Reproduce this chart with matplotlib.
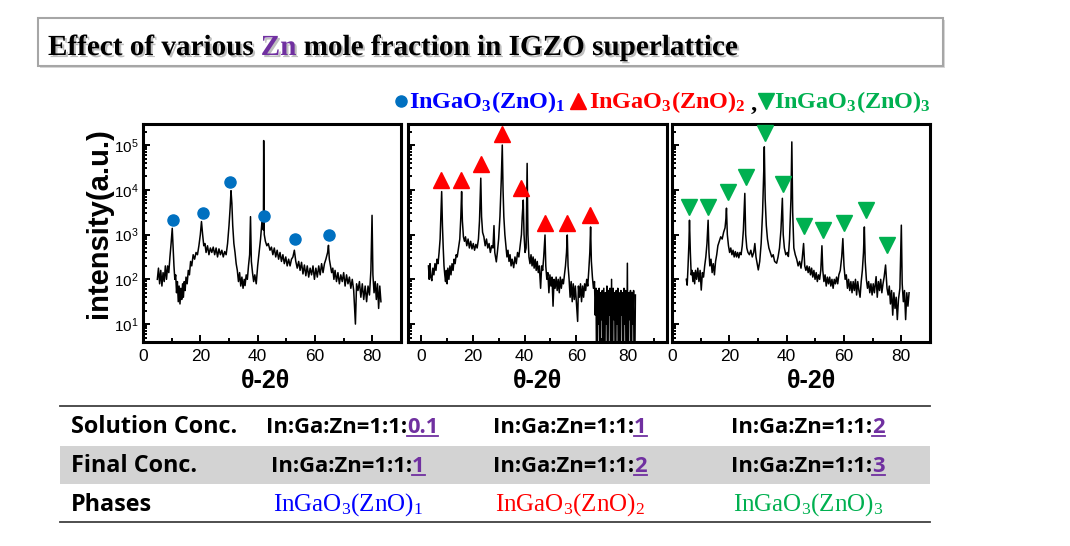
#!/usr/bin/env python3
"""XRD theta-2theta scans of IGZO superlattice films for three Zn fractions."""

import matplotlib

matplotlib.use("Agg")
import matplotlib.patheffects as pe
import matplotlib.pyplot as plt
import numpy as np
from matplotlib.lines import Line2D
from matplotlib.patches import Rectangle
from matplotlib.ticker import LogLocator, MultipleLocator, NullFormatter

# (2theta, log10 intensity)
SCAN_1 = [
    (5.0, 2.0), (5.4, 2.25), (5.8, 1.9), (6.2, 2.2), (6.6, 1.85), (7.0, 2.15),
    (7.4, 1.95), (7.8, 2.3), (8.2, 2.0), (8.6, 2.3), (9.0, 2.15), (9.4, 2.5),
    (9.8, 2.8), (10.2, 3.14), (10.5, 2.7), (10.8, 2.3), (11.1, 2.0), (11.4, 2.1),
    (11.7, 1.7), (12.0, 1.95), (12.3, 1.5), (12.6, 1.85), (12.9, 1.45), (13.2, 1.8),
    (13.5, 1.55), (13.8, 1.9), (14.1, 1.6), (14.4, 1.95), (14.7, 1.75), (15.0, 2.05),
    (15.4, 1.9), (15.8, 2.2), (16.2, 2.1), (16.6, 2.4), (17.0, 2.3), (17.5, 2.55),
    (18.0, 2.45), (18.5, 2.6), (19.0, 2.55), (19.5, 2.75), (20.0, 3.0), (20.4, 3.29),
    (20.8, 3.0), (21.2, 2.75), (21.6, 2.8), (22.0, 2.6), (22.5, 2.75), (23.0, 2.55),
    (23.5, 2.7), (24.0, 2.6), (24.5, 2.72), (25.0, 2.55), (25.5, 2.7), (26.0, 2.5),
    (26.5, 2.68), (27.0, 2.55), (27.5, 2.65), (28.0, 2.5), (28.5, 2.62), (29.0, 2.55),
    (29.5, 2.8), (30.0, 3.2), (30.4, 3.6), (30.7, 3.98), (31.0, 3.7), (31.3, 3.2),
    (31.7, 2.8), (32.1, 2.6), (32.5, 2.35), (32.9, 2.2), (33.3, 1.95), (33.7, 2.15),
    (34.1, 1.85), (34.5, 2.05), (34.9, 1.8), (35.3, 2.0), (35.6, 1.86), (36.0, 2.1),
    (36.4, 2.0), (36.8, 2.3), (37.2, 2.55), (37.5, 3.4), (37.8, 2.4), (38.2, 2.15),
    (38.6, 1.95), (39.0, 2.1), (39.5, 1.9), (40.0, 2.3), (40.5, 2.6), (41.0, 2.9),
    (41.5, 3.29), (42.0, 3.1), (42.1, 5.1), (42.3, 3.0), (42.7, 2.85), (43.2, 2.75),
    (43.7, 2.8), (44.3, 2.65), (44.8, 2.72), (45.3, 2.55), (45.8, 2.7), (46.3, 2.5),
    (46.8, 2.65), (47.3, 2.45), (47.8, 2.6), (48.3, 2.4), (48.8, 2.55), (49.3, 2.35),
    (49.8, 2.5), (50.3, 2.3), (50.8, 2.45), (51.3, 2.3), (51.8, 2.45), (52.3, 2.5),
    (52.8, 2.65), (53.3, 2.4), (53.8, 2.25), (54.3, 2.4), (54.8, 2.2), (55.3, 2.38),
    (55.8, 2.12), (56.3, 2.32), (56.8, 2.08), (57.3, 2.3), (57.8, 2.05), (58.3, 2.25),
    (58.8, 2.1), (59.3, 2.3), (59.8, 2.0), (60.3, 2.25), (60.8, 2.05), (61.3, 2.3),
    (61.8, 2.1), (62.3, 2.35), (62.8, 2.15), (63.3, 2.35), (63.8, 2.45), (64.4, 2.6),
    (64.7, 2.76), (65.0, 2.45), (65.4, 2.3), (65.8, 2.15), (66.2, 2.25), (66.6, 2.0),
    (67.0, 2.2), (67.5, 1.95), (68.0, 2.15), (68.5, 1.9), (69.0, 2.1), (69.5, 1.95),
    (70.0, 2.15), (70.5, 1.85), (71.0, 2.1), (71.5, 1.9), (72.0, 2.05), (72.5, 1.8),
    (73.0, 2.0), (73.5, 1.75), (74.1, 1.0), (74.5, 1.9), (75.0, 1.75), (75.5, 1.95),
    (76.0, 1.6), (76.5, 1.9), (77.0, 1.55), (77.5, 1.85), (78.0, 1.5), (78.5, 1.85),
    (79.0, 1.65), (79.5, 2.2), (79.9, 3.43), (80.2, 2.1), (80.6, 1.7), (81.0, 1.95),
    (81.4, 1.55), (81.8, 1.9), (82.2, 1.35), (82.6, 1.85), (83.0, 1.5),
]

SCAN_2 = [
    (2.9, 2.3), (3.2, 2.0), (3.5, 2.35), (3.8, 2.05), (4.2, 1.97), (4.6, 2.25),
    (5.0, 2.1), (5.4, 2.35), (5.8, 2.2), (6.2, 2.45), (6.6, 2.35), (7.0, 2.6),
    (7.4, 2.9), (7.7, 3.4), (8.0, 3.96), (8.3, 3.2), (8.6, 2.7), (8.9, 2.3),
    (9.2, 2.1), (9.5, 1.95), (9.8, 2.2), (10.1, 1.9), (10.4, 2.25), (10.8, 2.0),
    (11.2, 2.3), (11.6, 2.1), (12.0, 2.35), (12.4, 2.2), (12.8, 2.45), (13.2, 2.35),
    (13.6, 2.55), (14.0, 2.5), (14.5, 2.7), (15.0, 2.9), (15.4, 3.4), (15.7, 3.96),
    (16.0, 3.3), (16.4, 2.95), (16.8, 2.85), (17.2, 2.95), (17.7, 2.75), (18.2, 2.9),
    (18.7, 2.7), (19.2, 2.85), (19.7, 2.68), (20.2, 2.8), (20.7, 2.65), (21.2, 2.78),
    (21.7, 2.7), (22.2, 2.9), (22.6, 3.3), (23.1, 4.26), (23.4, 3.4), (23.8, 3.05),
    (24.3, 2.95), (24.8, 2.75), (25.3, 2.9), (25.8, 2.7), (26.3, 2.8), (26.8, 2.6),
    (27.3, 2.75), (27.8, 2.7), (28.2, 3.2), (28.5, 2.6), (28.8, 2.5), (29.1, 2.39),
    (29.5, 2.6), (30.0, 2.9), (30.5, 3.4), (31.0, 4.2), (31.4, 5.0), (31.7, 4.0),
    (32.0, 3.4), (32.4, 3.0), (32.8, 2.75), (33.2, 2.5), (33.6, 2.65), (34.0, 2.4),
    (34.4, 2.55), (34.8, 2.3), (35.2, 2.45), (35.8, 2.26), (36.3, 2.5), (36.8, 2.35),
    (37.3, 2.6), (37.8, 2.5), (38.3, 2.75), (38.8, 3.0), (39.1, 3.4), (39.5, 3.77),
    (39.8, 3.0), (40.2, 2.6), (40.6, 2.7), (41.0, 4.59), (41.3, 3.0), (41.7, 2.5),
    (42.1, 2.35), (42.5, 2.55), (42.9, 2.3), (43.3, 2.5), (43.7, 2.25), (44.1, 2.45),
    (44.5, 2.2), (44.9, 2.4), (45.3, 2.15), (45.7, 2.3), (46.2, 1.8), (46.6, 2.3),
    (47.0, 2.2), (47.4, 2.5), (47.9, 2.99), (48.2, 2.3), (48.6, 2.0), (49.0, 2.15),
    (49.4, 1.7), (49.8, 2.1), (50.2, 1.85), (50.6, 2.05), (51.0, 1.4), (51.4, 2.0),
    (51.8, 1.8), (52.2, 2.05), (52.6, 1.75), (53.0, 2.0), (53.4, 1.7), (53.8, 2.05),
    (54.2, 1.8), (54.6, 2.0), (55.0, 1.9), (55.4, 2.1), (55.8, 2.3), (56.2, 2.6),
    (56.5, 2.99), (56.8, 2.3), (57.2, 2.0), (57.6, 1.6), (58.0, 1.95), (58.4, 1.5),
    (58.8, 1.9), (59.2, 1.55), (59.6, 1.85), (60.0, 1.5), (60.5, 1.06), (60.8, 1.85),
    (61.2, 1.6), (61.6, 1.9), (62.0, 1.5), (62.4, 1.85), (62.8, 1.6), (63.2, 1.9),
    (63.6, 1.75), (64.0, 2.0), (64.4, 1.85), (64.8, 2.2), (65.2, 2.6), (65.5, 3.17),
    (65.8, 2.4), (66.2, 2.05), (66.6, 1.8), (67.0, 1.95), (67.3, 1.2), (67.6, 1.8),
    (67.9, -1.0), (68.2, 1.75), (68.5, 1.0), (68.8, 1.8), (69.1, -1.0), (69.4, 1.7),
    (69.7, 1.1), (70.0, 1.75), (70.3, -1.0), (70.6, 1.8), (70.9, -1.0), (71.2, 1.7),
    (71.5, 1.0), (71.8, 1.85), (72.1, -1.0), (72.4, 1.75), (72.7, 1.2), (73.0, 1.8),
    (73.3, -1.0), (73.6, 2.0), (73.9, -1.0), (74.2, 1.8), (74.5, 1.1), (74.8, 1.7),
    (75.1, -1.0), (75.4, 1.75), (75.7, 1.0), (76.0, 1.8), (76.3, -1.0), (76.6, 1.7),
    (76.9, -1.0), (77.2, 1.75), (77.5, 1.2), (77.8, 1.7), (78.1, -1.0), (78.4, 1.8),
    (78.7, 1.0), (79.0, 1.75), (79.3, -1.0), (79.7, 2.36), (80.0, -1.0), (80.3, 1.7),
    (80.6, 1.1), (80.9, 1.75), (81.2, -1.0), (81.5, 1.7), (81.8, 1.0), (82.1, 1.75),
    (82.4, -1.0), (82.8, 1.65),
]

SCAN_3 = [
    (5.0, 2.0), (5.3, 1.87), (5.6, 2.3), (5.9, 2.8), (6.1, 3.32), (6.4, 2.6),
    (6.7, 2.1), (7.0, 2.2), (7.3, 1.95), (7.6, 2.15), (7.9, 1.9), (8.2, 2.2),
    (8.6, 2.0), (9.0, 2.25), (9.4, 1.95), (9.8, 2.2), (10.2, 1.76), (10.6, 2.15),
    (11.0, 2.05), (11.4, 2.3), (11.8, 2.5), (12.2, 2.8), (12.6, 3.32), (12.9, 2.6),
    (13.2, 2.3), (13.6, 2.45), (14.0, 2.15), (14.4, 2.35), (14.8, 2.1), (15.2, 2.4),
    (15.6, 2.55), (16.0, 2.75), (16.5, 2.85), (17.0, 2.95), (17.5, 2.9), (18.0, 3.05),
    (18.5, 3.15), (18.8, 3.35), (19.0, 3.59), (19.3, 3.0), (19.7, 2.75), (20.1, 2.6),
    (20.5, 2.7), (20.9, 2.55), (21.3, 2.65), (21.7, 2.5), (22.1, 2.62), (22.5, 2.5),
    (22.9, 2.6), (23.3, 2.48), (23.7, 2.6), (24.1, 2.55), (24.5, 2.75), (24.9, 3.1),
    (25.4, 3.92), (25.7, 3.0), (26.1, 2.7), (26.5, 2.6), (27.0, 2.55), (27.5, 2.65),
    (28.0, 2.5), (28.5, 2.6), (28.9, 2.8), (29.3, 2.5), (29.7, 2.35), (30.1, 2.21),
    (30.6, 2.4), (31.1, 2.8), (31.6, 3.5), (32.0, 4.4), (32.2, 4.96), (32.5, 3.8),
    (32.9, 3.2), (33.3, 2.9), (33.8, 2.7), (34.3, 2.6), (34.8, 2.5), (35.3, 2.55),
    (35.8, 2.4), (36.5, 2.36), (37.0, 2.5), (37.5, 2.7), (38.0, 3.1), (38.5, 3.81),
    (38.8, 3.0), (39.2, 2.7), (39.7, 2.55), (40.2, 2.6), (40.6, 2.51), (41.0, 2.9),
    (41.5, 3.8), (41.8, 5.07), (42.1, 3.5), (42.5, 2.7), (43.0, 2.55), (43.5, 2.45),
    (44.0, 2.3), (44.5, 2.4), (45.0, 2.25), (45.4, 2.45), (45.9, 2.8), (46.3, 2.3),
    (46.7, 2.2), (47.1, 2.3), (47.5, 2.15), (47.9, 2.28), (48.3, 2.1), (48.7, 2.25),
    (49.1, 2.05), (49.5, 2.2), (49.9, 2.0), (50.3, 2.15), (50.7, 1.95), (51.1, 2.1),
    (51.5, 2.0), (51.9, 2.2), (52.3, 2.75), (52.6, 2.2), (53.0, 1.95), (53.4, 2.1),
    (53.8, 1.85), (54.2, 2.05), (54.6, 1.9), (55.0, 2.05), (55.4, 1.85), (55.8, 2.0),
    (56.2, 1.8), (56.6, 2.0), (57.0, 1.9), (57.4, 2.05), (57.8, 1.9), (58.2, 2.1),
    (58.7, 2.2), (59.2, 2.5), (59.6, 2.91), (60.0, 2.3), (60.4, 2.0), (60.8, 2.1),
    (61.2, 1.8), (61.6, 2.0), (62.0, 1.75), (62.4, 1.95), (62.8, 1.7), (63.2, 1.95),
    (63.6, 1.75), (64.0, 2.0), (64.4, 1.65), (64.8, 1.95), (65.2, 1.75), (65.6, 1.6),
    (66.0, 1.95), (66.4, 2.2), (66.8, 2.6), (67.1, 3.17), (67.4, 2.4), (67.8, 2.0),
    (68.2, 1.8), (68.6, 1.95), (69.0, 1.7), (69.4, 1.9), (69.8, 1.65), (70.2, 1.9),
    (70.6, 1.7), (71.2, 2.06), (71.6, 1.6), (72.0, 1.95), (72.4, 1.75), (72.8, 2.0),
    (73.2, 1.7), (73.6, 1.9), (74.0, 2.05), (74.5, 2.32), (75.0, 1.8), (75.4, 1.65),
    (75.8, 1.85), (76.2, 1.45), (76.6, 1.75), (77.0, 1.2), (77.4, 1.7), (77.8, 1.35),
    (78.2, 1.6), (78.6, 1.1), (79.0, 1.55), (79.5, 1.8), (80.0, 3.21), (80.3, 1.9),
    (80.7, 1.5), (81.1, 1.75), (81.5, 1.1), (81.9, 1.7), (82.3, 1.4), (82.7, 1.7),
]

# phase markers (2theta, log10 intensity)
MARKS_1 = [(10.3, 3.32), (21.0, 3.49), (30.3, 4.18), (42.3, 3.41), (53.0, 2.9), (64.8, 2.99)]
MARKS_2 = [(7.6, 4.22), (15.5, 4.22), (23.2, 4.57), (31.4, 5.25), (38.5, 4.03),
           (47.9, 3.26), (56.3, 3.26), (65.4, 3.44)]
MARKS_3 = [(6.1, 3.61), (12.6, 3.61), (19.6, 3.96), (25.8, 4.28), (32.4, 5.27), (38.6, 4.14),
           (46.2, 3.19), (52.6, 3.11), (59.9, 3.25), (67.5, 3.55), (75.1, 2.77)]

PHASE_NAMES = [r"$\mathdefault{InGaO_3(ZnO)_1}$", r"$\mathdefault{InGaO_3(ZnO)_2}$",
               r"$\mathdefault{InGaO_3(ZnO)_3}$"]
ROW_LABELS = ["Solution Conc.", "Final Conc.", "Phases"]
SOLUTION_ZN = ["0.1", "1", "2"]
FINAL_ZN = ["1", "2", "3"]

C_BLUE_TXT = "#0000ff"
C_RED = "#ff0000"
C_GREEN = "#00b050"
C_BLUE_MK = "#0070c0"
C_PURPLE = "#7030a0"

W, H = 1070, 546


def fx(px):
    return px / W


def fy(py):
    return 1 - py / H


def text_width(fig, r, s, **kw):
    t1 = fig.text(0, 0, "l" + s + "l", **kw)
    t2 = fig.text(0, 0, "ll", **kw)
    w = t1.get_window_extent(r).width - t2.get_window_extent(r).width
    t1.remove()
    t2.remove()
    return w


def multi_text(fig, x, y, parts, ha="left", **kw):
    """parts: list of (string, colour, underline). x, y in pixels (baseline)."""
    r = fig.canvas.get_renderer()
    widths = [text_width(fig, r, s, **kw) for s, _, _ in parts]
    x0 = x - sum(widths) / 2 if ha == "center" else x
    for (s, c, ul), w in zip(parts, widths):
        fig.text(fx(x0), fy(y), s, color=c, va="baseline", ha="left", **kw)
        if ul:
            fig.add_artist(Line2D([fx(x0), fx(x0 + w)], [fy(y + 3), fy(y + 3)],
                                  color=c, lw=1.3, transform=fig.transFigure))
        x0 += w


def main():
    fig = plt.figure(figsize=(W / 100, H / 100), dpi=100)

    # title box
    box = Rectangle((fx(38), fy(66)), fx(943) - fx(38), fy(18) - fy(66),
                    transform=fig.transFigure, fc="white", ec="#a6a6a6", lw=1.5,
                    path_effects=[pe.withSimplePatchShadow(offset=(1.5, -1.5),
                                                           shadow_rgbFace="0.7", alpha=0.5)])
    fig.add_artist(box)
    shadow = [pe.withSimplePatchShadow(offset=(1.5, -1.5), shadow_rgbFace="0.5", alpha=0.5)]
    multi_text(fig, 48, 55,
               [("Effect of various ", "black", False), ("Zn", C_PURPLE, False),
                (" mole fraction in IGZO superlattice", "black", False)],
               family="Liberation Serif", weight="bold", fontsize=21,
               path_effects=shadow)

    # legend line
    leg_kw = dict(family="Liberation Serif", weight="bold", fontsize=17.5)
    for xm, mk, col, ms in [(401, "o", C_BLUE_MK, 8), (578, "^", C_RED, 11),
                            (766, "v", C_GREEN, 11)]:
        fig.add_artist(Line2D([fx(xm)], [fy(101)], marker=mk, color=col, ms=ms,
                              transform=fig.transFigure))
    fig.text(fx(409), fy(108), PHASE_NAMES[0], color=C_BLUE_TXT, va="baseline", **leg_kw)
    fig.text(fx(589), fy(108), PHASE_NAMES[1], color=C_RED, va="baseline", **leg_kw)
    fig.text(fx(751), fy(110), ",", color="black", va="baseline", **leg_kw)
    fig.text(fx(774), fy(108), PHASE_NAMES[2], color=C_GREEN, va="baseline", **leg_kw)

    # XRD panels
    frames = [(143, 401, (0, 90)), (408, 667, (-5, 95)), (672, 930, (0, 90))]
    scans = [SCAN_1, SCAN_2, SCAN_3]
    marks = [(MARKS_1, "o", C_BLUE_MK, 8), (MARKS_2, "^", C_RED, 11),
             (MARKS_3, "v", C_GREEN, 11)]
    xlabel_x = [266, 538, 811]
    for i, ((l, rgt, xlim), scan, (mk_data, mk, col, ms)) in enumerate(
        zip(frames, scans, marks)
    ):
        ax = fig.add_axes([fx(l), fy(342), fx(rgt) - fx(l), fy(124) - fy(342)])
        x, logi = np.array(scan).T
        ax.plot(x, 10 ** logi, color="black", lw=1.1, zorder=2)
        mx, mlog = np.array(mk_data).T
        ax.plot(mx, 10 ** mlog, ls="none", marker=mk, color=col, ms=ms, zorder=3)
        ax.set_yscale("log")
        ax.set_ylim(10 ** 0.6, 10 ** 5.47)
        ax.set_xlim(*xlim)
        ax.xaxis.set_major_locator(MultipleLocator(20))
        ax.xaxis.set_minor_locator(MultipleLocator(10))
        ax.yaxis.set_major_locator(LogLocator(base=10, numticks=10))
        ax.yaxis.set_minor_locator(LogLocator(base=10, subs=np.arange(2, 10), numticks=10))
        ax.yaxis.set_minor_formatter(NullFormatter())
        ax.tick_params(which="both", direction="in", top=False, right=False, width=1.4)
        ax.tick_params(which="major", length=5)
        ax.tick_params(which="minor", length=3)
        ax.tick_params(axis="x", labelsize=12.5, pad=5)
        ax.tick_params(axis="y", labelsize=11, pad=3)
        for lab in ax.get_xticklabels() + ax.get_yticklabels():
            lab.set_family("Liberation Sans")
        if i > 0:
            ax.tick_params(labelleft=False)
        for sp in ax.spines.values():
            sp.set_linewidth(2.2)
        fig.text(fx(xlabel_x[i]), fy(381), "θ-2θ", ha="center", va="center",
                 family="Liberation Sans", weight="bold", fontsize=18)

    fig.text(fx(99), fy(223), "intensity(a.u.)", rotation=90, ha="center", va="center",
             family="Liberation Sans", weight="bold", fontsize=21)

    # table
    fig.add_artist(Rectangle((fx(60), fy(484)), fx(930) - fx(60), fy(446) - fy(484),
                             transform=fig.transFigure, fc="#d3d3d3", ec="none"))
    for yl in (406, 522):
        fig.add_artist(Line2D([fx(60), fx(930)], [fy(yl), fy(yl)], color="#404040",
                              lw=1.3, transform=fig.transFigure))
    row_y = [433, 472, 511]
    for lab, yb in zip(ROW_LABELS, row_y):
        fig.text(fx(71), fy(yb), lab, va="baseline", color="black",
                 family="Open Sans", weight="bold", fontsize=16.8)
    val_kw = dict(family="Open Sans", weight="bold", fontsize=15.8)
    col_x = [352, 570, 808]
    for cx, zn in zip(col_x, SOLUTION_ZN):
        multi_text(fig, cx, row_y[0], [("In:Ga:Zn=1:1:", "black", False),
                                        (zn, C_PURPLE, True)], ha="center", **val_kw)
    for cx, zn in zip([348, 570, 808], FINAL_ZN):
        multi_text(fig, cx, row_y[1], [("In:Ga:Zn=1:1:", "black", False),
                                        (zn, C_PURPLE, True)], ha="center", **val_kw)
    for cx, name, col in zip([348, 570, 808], PHASE_NAMES, [C_BLUE_TXT, C_RED, C_GREEN]):
        fig.text(fx(cx), fy(row_y[2]), name, color=col, ha="center", va="baseline",
                 family="Liberation Serif", fontsize=18)

    fig.savefig("out.png", dpi=100)
    plt.close(fig)


if __name__ == "__main__":
    main()
